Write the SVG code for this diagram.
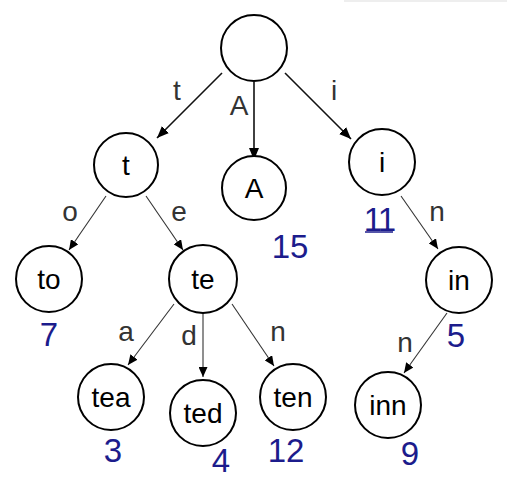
<svg xmlns="http://www.w3.org/2000/svg" width="507" height="489" viewBox="0 0 507 489">
<style>
.node circle{fill:#fff;stroke:#000;stroke-width:2}
.node text{font-family:"Liberation Sans",Arial,sans-serif;font-size:28px;fill:#000;text-anchor:middle}
.lbl{font-family:"Liberation Sans",Arial,sans-serif;font-size:28px;fill:#333;text-anchor:middle}
.num{font-family:"Liberation Sans",Arial,sans-serif;font-size:33px;fill:#1c1c8c;text-anchor:middle}
.e1{stroke:#111;stroke-width:1.6;fill:none;marker-end:url(#ah)}
.e2{stroke:#333;stroke-width:1.1;fill:none;marker-end:url(#ah2)}
</style>
<defs>
<marker id="ah" markerWidth="12" markerHeight="10" refX="12" refY="5" orient="auto" markerUnits="userSpaceOnUse">
<path d="M0,0 L12,5 L0,10 Z" fill="#000"/>
</marker>
<marker id="ah2" markerWidth="10" markerHeight="9" refX="10" refY="4.5" orient="auto" markerUnits="userSpaceOnUse">
<path d="M0,0 L10,4.5 L0,9 Z" fill="#000"/>
</marker>
</defs>
<rect width="507" height="489" fill="#fff"/>
<line x1="344" y1="1" x2="507" y2="1" stroke="#ddd" stroke-width="1"/>
<g id="connectors">
<line class="e1" x1="222" y1="73" x2="157" y2="138"/>
<line class="e1" x1="254" y1="82" x2="254" y2="160"/>
<line class="e1" x1="285" y1="73" x2="351" y2="139"/>
<line class="e2" x1="106" y1="196" x2="69" y2="250"/>
<line class="e2" x1="146" y1="196" x2="183" y2="250"/>
<line class="e2" x1="174" y1="304" x2="128" y2="365"/>
<line class="e2" x1="203" y1="313" x2="203" y2="377"/>
<line class="e2" x1="232" y1="304" x2="274" y2="366"/>
<line class="e2" x1="401" y1="196" x2="438" y2="249"/>
<line class="e2" x1="447" y1="313" x2="404" y2="373"/>
<text class="lbl" x="177" y="100">t</text>
<text class="lbl" x="239" y="115">A</text>
<text class="lbl" x="334" y="100">i</text>
<text class="lbl" x="70" y="221">o</text>
<text class="lbl" x="179" y="221">e</text>
<text class="lbl" x="126" y="341">a</text>
<text class="lbl" x="189" y="345">d</text>
<text class="lbl" x="278" y="341">n</text>
<text class="lbl" x="437" y="221">n</text>
<text class="lbl" x="405" y="352">n</text>
</g>
<g id="root" class="node"><circle cx="254" cy="48" r="33"/></g>
<g id="n-t" class="node"><circle cx="126" cy="165" r="32"/><text x="126" y="175">t</text></g>
<g id="n-A" class="node"><circle cx="254" cy="188" r="32"/><text x="254" y="198">A</text></g>
<g id="n-i" class="node"><circle cx="382" cy="162" r="33"/><text x="382" y="172">i</text></g>
<g id="n-to" class="node"><circle cx="49" cy="279" r="33"/><text x="49" y="289">to</text></g>
<g id="n-te" class="node"><circle cx="203" cy="279" r="34"/><text x="203" y="289">te</text></g>
<g id="n-tea" class="node"><circle cx="111" cy="397" r="33"/><text x="111" y="407">tea</text></g>
<g id="n-ted" class="node"><circle cx="203" cy="413" r="33"/><text x="203" y="423">ted</text></g>
<g id="n-ten" class="node"><circle cx="293" cy="397" r="33"/><text x="293" y="407">ten</text></g>
<g id="n-in" class="node"><circle cx="459" cy="280" r="33"/><text x="459" y="290">in</text></g>
<g id="n-inn" class="node"><circle cx="388" cy="405" r="33"/><text x="388" y="415">inn</text></g>
<g id="values">
<text class="num" x="49" y="346">7</text>
<text class="num" x="290" y="258">15</text>
<text class="num" x="379" y="231" style="letter-spacing:-2px">11</text>
<line x1="365" y1="232" x2="393" y2="232" stroke="#1c1c8c" stroke-width="1.5"/>
<text class="num" x="113" y="462">3</text>
<text class="num" x="221" y="472">4</text>
<text class="num" x="286" y="462">12</text>
<text class="num" x="456" y="347">5</text>
<text class="num" x="410" y="465">9</text>
</g>
</svg>
